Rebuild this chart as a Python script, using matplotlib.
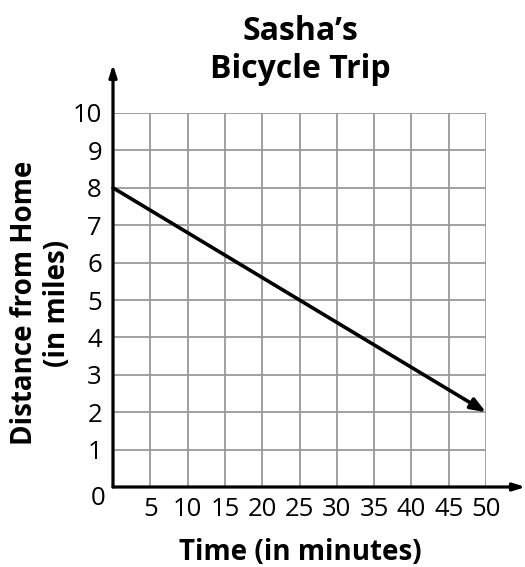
import matplotlib
matplotlib.use("Agg")
import matplotlib.pyplot as plt
import numpy as np

plt.rcParams['font.family'] = ['Open Sans', 'DejaVu Sans']

# Data
times = [0, 50]          # minutes
distances = [8, 2]       # miles
x_ticks = [5, 10, 15, 20, 25, 30, 35, 40, 45, 50]
y_ticks = [1, 2, 3, 4, 5, 6, 7, 8, 9, 10]
title = "Sasha\u2019s\nBicycle Trip"
xlabel = "Time (in minutes)"
ylabel = "Distance from Home\n(in miles)"

W, H = 525, 567
fig = plt.figure(figsize=(W / 100, H / 100), dpi=100)
L, R, T, B = 113, 486, 113, 487
ax = fig.add_axes([L / W, 1 - B / H, (R - L) / W, (B - T) / H])
ax.set_xlim(0, 50)
ax.set_ylim(0, 10)
for s in ax.spines.values():
    s.set_visible(False)

ax.set_xticks(x_ticks)
ax.set_yticks(y_ticks)
ax.set_xticklabels([str(v) for v in x_ticks], fontsize=18.5)
ax.set_yticklabels([str(v) for v in y_ticks], fontsize=18.5)
ax.tick_params(axis='y', length=0, pad=8)
ax.tick_params(axis='x', length=0, pad=7)

# grid
for xv in x_ticks:
    ax.plot([xv, xv], [0, 10], color='#9a9a9a', lw=1.3, zorder=1)
for yv in y_ticks:
    ax.plot([0, 50], [yv, yv], color='#9a9a9a', lw=1.3, zorder=1)

# axes with arrows
ax.annotate('', xy=(55.3, 0), xytext=(0, 0), annotation_clip=False,
            arrowprops=dict(arrowstyle='-|>,head_length=0.7,head_width=0.22', color='black', lw=2.3,
                            shrinkA=0, shrinkB=0), zorder=5)
ax.annotate('', xy=(0, 11.3), xytext=(0, 0), annotation_clip=False,
            arrowprops=dict(arrowstyle='-|>,head_length=0.7,head_width=0.22', color='black', lw=2.3,
                            shrinkA=0, shrinkB=0), zorder=5)

# data line with arrow
ax.annotate('', xy=(times[1], distances[1]), xytext=(times[0], distances[0]), annotation_clip=False,
            arrowprops=dict(arrowstyle='-|>,head_length=0.9,head_width=0.35', color='black', lw=2.6,
                            shrinkA=0, shrinkB=0), zorder=6)

ax.text(-2.0, -0.3, "0", fontsize=18.5, ha='center', va='center')

fig.text(300 / W, 1 - 51 / H, title, fontsize=23, fontweight='bold', ha='center', va='center',
         linespacing=1.2)
fig.text(300 / W, 1 - 552 / H, xlabel, fontsize=20, fontweight='bold', ha='center', va='center')
fig.text(41 / W, 1 - 303 / H, ylabel, fontsize=20, fontweight='bold', ha='center', va='center',
         rotation=90, linespacing=1.2)

fig.savefig("out.png", dpi=100, facecolor='white')
